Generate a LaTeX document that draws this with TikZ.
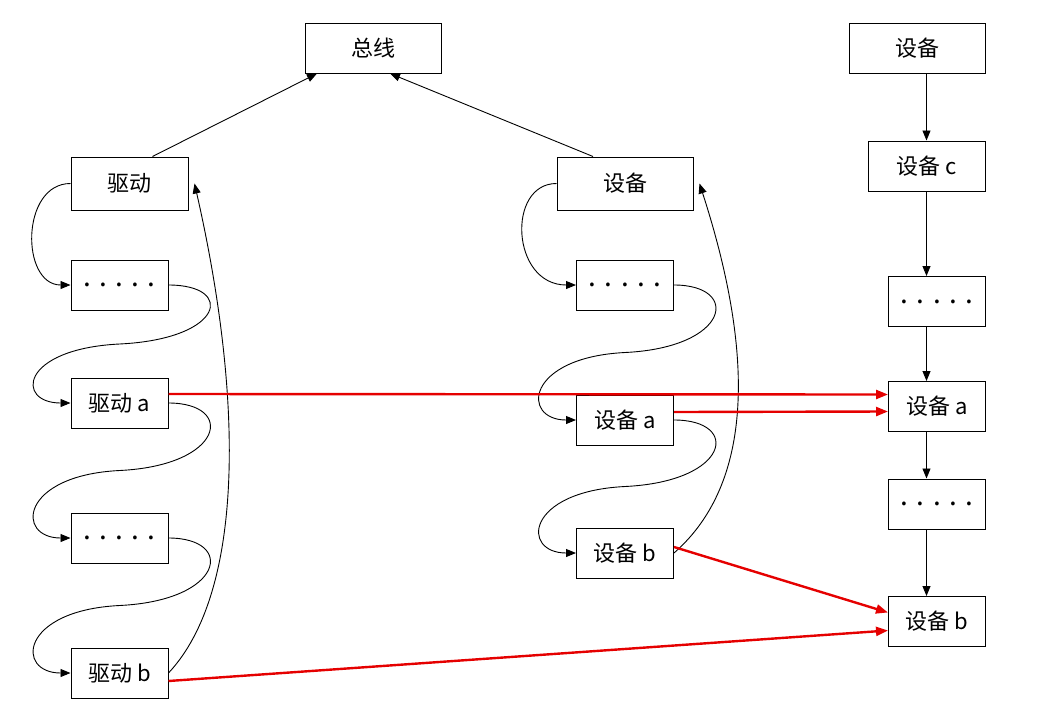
\documentclass[tikz,border=0pt]{standalone}
\usepackage{fontspec}
\newfontfamily\cjk{Noto Sans CJK SC}
\usepackage{tikz}
\usetikzlibrary{arrows.meta,positioning,calc}

\begin{document}
\begin{tikzpicture}[
    x=1pt, y=-1pt,
    box/.style={rectangle, draw, line width=1pt, inner sep=0pt,
                minimum width=97pt, minimum height=50pt,
                font=\cjk\fontsize{22}{26}\selectfont},
    wide/.style={box, minimum width=136pt},
    mid/.style={box, minimum width=117pt},
    dots/.style={box, font=\cjk\fontsize{28}{30}\selectfont},
    link/.style={line width=0.9pt, -{Triangle[width=8pt,length=10pt]}},
    hot/.style={line width=2.4pt, red!90!black, -{Triangle[width=9pt,length=12pt]}},
    >=Stealth
]
\useasboundingbox (0,0) rectangle (1047,710);

% top
\node[wide] (bus) at (373,48) {总线};

% left column: drivers
\node[mid, minimum height=53pt] (drv) at (129.5,183.5) {驱动};
\node[dots] (drvdots) at (119.5,285) {. . . . .};
\node[box] (drva) at (119.5,403) {驱动 a};
\node[dots] (drvdots2) at (119.5,538) {. . . . .};
\node[box] (drvb) at (119.5,673) {驱动 b};

% middle column: devices on the bus
\node[wide, minimum height=53pt] (dev) at (625,183.5) {设备};
\node[dots] (devdots) at (625,285) {. . . . .};
\node[box] (deva) at (625,420) {设备 a};
\node[box] (devb) at (625,553) {设备 b};

% right column: device tree
\node[wide] (root) at (917,48) {设备};
\node[mid] (devc) at (926.5,166) {设备 c};
\node[dots] (treedots) at (937,301.5) {. . . . .};
\node[box] (treea) at (937,406.5) {设备 a};
\node[dots] (treedots2) at (937,504) {. . . . .};
\node[box] (treeb) at (937,621.5) {设备 b};

\draw[link] ([xshift=23pt]drv.north) -- ([xshift=-56pt]bus.south);
\draw[link] ([xshift=-32pt]dev.north) -- ([xshift=17pt]bus.south);

% driver list
\draw[link] (drv.west) .. controls +(-50,0) and +(-50,0) .. (drvdots.west);
\draw[link] (drvdots.east) .. controls +(67,0) and +(105,-5) .. ($(drvdots.east)!0.5!(drva.west)$)
    .. controls +(-100,5) and +(-55,0) .. (drva.west);
\draw[link] (drva.east) .. controls +(67,0) and +(105,-5) .. ($(drva.east)!0.5!(drvdots2.west)$)
    .. controls +(-100,5) and +(-55,0) .. (drvdots2.west);
\draw[link] (drvdots2.east) .. controls +(67,0) and +(105,-5) .. ($(drvdots2.east)!0.5!(drvb.west)$)
    .. controls +(-100,5) and +(-55,0) .. (drvb.west);
\draw[link] (drvb.east) .. controls +(75,-80) and +(50,220) .. ([xshift=6pt]drv.east);

% device list
\draw[link] (dev.west) .. controls +(-50,0) and +(-65,0) .. (devdots.west);
\draw[link] (devdots.east) .. controls +(67,0) and +(105,-5) .. ($(devdots.east)!0.5!(deva.west)$)
    .. controls +(-100,5) and +(-55,0) .. (deva.west);
\draw[link] (deva.east) .. controls +(67,0) and +(105,-5) .. ($(deva.east)!0.5!(devb.west)$)
    .. controls +(-100,5) and +(-55,0) .. (devb.west);
\draw[link] (devb.east) .. controls +(80,-70) and +(55,170) .. ([xshift=6pt]dev.east);

% device tree
\draw[link] (root.south -| devc) -- (devc.north);
\draw[link] (devc.south) -- (treedots.north -| devc);
\draw[link] (treedots.south -| devc) -- (treea.north -| devc);
\draw[link] (treea.south -| devc) -- (treedots2.north -| devc);
\draw[link] (treedots2.south -| devc) -- (treeb.north -| devc);

% red links
\draw[hot] ([yshift=9pt]drva.east) -- ([yshift=12pt]treea.west);
\draw[hot] ([yshift=8pt]deva.east) -- ([yshift=-5pt]treea.west);
\draw[hot] ([yshift=6pt]devb.east) -- ([yshift=9pt]treeb.west);
\draw[hot] ([yshift=-8pt]drvb.east) -- ([yshift=-9pt]treeb.west);
\end{tikzpicture}
\end{document}
